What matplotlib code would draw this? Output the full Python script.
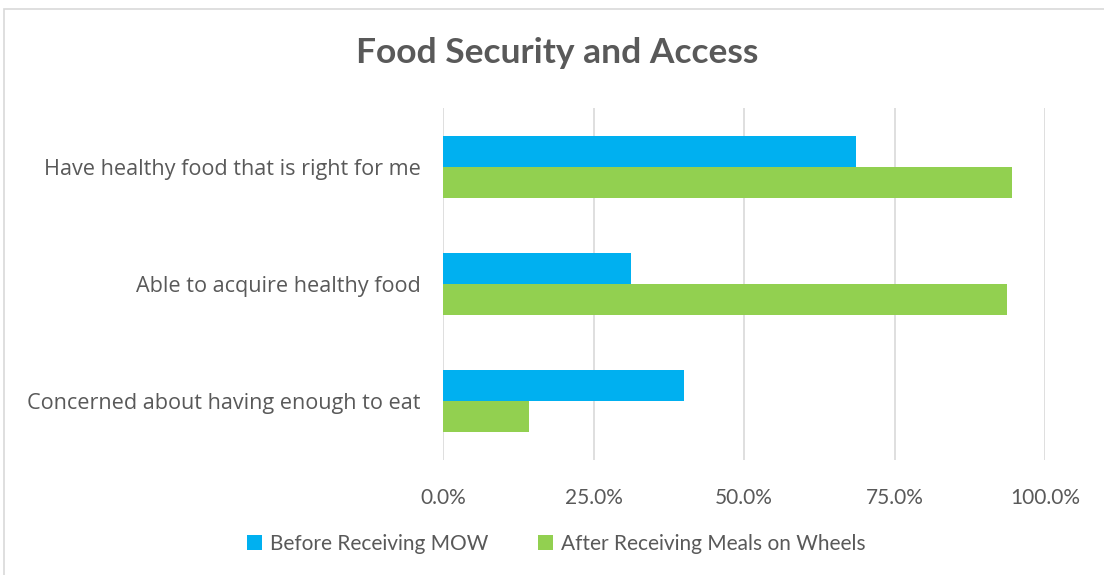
import matplotlib.pyplot as plt
import numpy as np
from matplotlib.patches import Rectangle

categories = ["Have healthy food that is right for me",
              "Able to acquire healthy food",
              "Concerned about having enough to eat"]
before = [68.6, 31.2, 40.0]
after = [94.5, 93.7, 14.3]
series = ["Before Receiving MOW", "After Receiving Meals on Wheels"]
ticks = [0, 25, 50, 75, 100]

blue = "#00B0F0"
green = "#92D050"
grey = "#595959"
narrow = ["Lato", "DejaVu Sans"]

fig = plt.figure(figsize=(11.04, 5.75), dpi=100)
fig.patches.append(Rectangle((4 / 1104, -0.01), 1.1, 1 - 9 / 575 + 0.01,
                             transform=fig.transFigure, fill=False,
                             edgecolor="#D9D9D9", linewidth=1.2))

ax = fig.add_axes([443 / 1104, 1 - 460 / 575, 602 / 1104, 352 / 575])
y = np.arange(len(categories))
h = 0.265
ax.barh(y - h / 2, before, height=h, color=blue, label=series[0], zorder=3)
ax.barh(y + h / 2, after, height=h, color=green, label=series[1], zorder=3)

ax.set_xlim(0, 100)
ax.set_ylim(2.5, -0.5)
ax.set_xticks(ticks)
ax.set_xticklabels([f"{t:.1f}%" for t in ticks], family=narrow, fontsize=15, color=grey)
ax.set_yticks(y)
ax.set_yticklabels(categories, family="Open Sans", fontsize=15.6, color=grey)
ax.tick_params(length=0)
ax.tick_params(axis="x", pad=20)
ax.tick_params(axis="y", pad=16)
ax.grid(axis="x", color="#D9D9D9", linewidth=1.2, zorder=0)
for s in ax.spines.values():
    s.set_visible(False)

fig.text(0.505, 1 - 53 / 575, "Food Security and Access", ha="center", va="center",
         family=narrow, fontsize=25.5, fontweight="bold", color=grey)

leg = fig.legend(loc="center", bbox_to_anchor=(0.504, 1 - 544 / 575), ncol=2,
                 frameon=False, handlelength=0.7, handleheight=0.7,
                 handletextpad=0.4, columnspacing=2.4,
                 prop={"family": narrow, "size": 15})
for t in leg.get_texts():
    t.set_color(grey)

fig.savefig("out.png", dpi=100)
